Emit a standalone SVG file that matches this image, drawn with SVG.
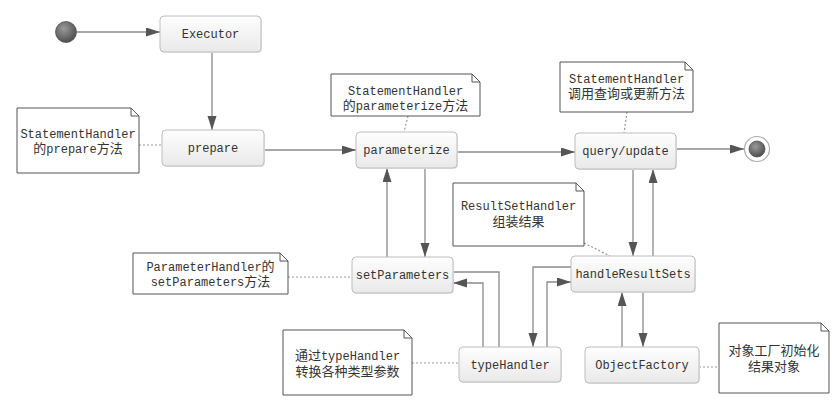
<svg xmlns="http://www.w3.org/2000/svg" width="838" height="411" viewBox="0 0 838 411">
<style>
.box{fill:url(#bg);stroke:#bdbdbd;stroke-width:1}
.shadow{fill:#e6e6e6}
.note{fill:#fff;stroke:#555;stroke-width:1}
.fold{fill:none;stroke:#555;stroke-width:1}
.t{font-family:"Liberation Mono","Noto Sans CJK SC",monospace;font-size:12px;fill:#333;text-anchor:middle}
.c{font-size:13px}
.line{fill:none;stroke:#8a8a8a;stroke-width:1.3}
.arr{marker-end:url(#ah)}
.dot{fill:none;stroke:#999;stroke-width:1.2;stroke-dasharray:2 2}
</style>
<defs>
<linearGradient id="bg" x1="0" y1="0" x2="0" y2="1">
<stop offset="0" stop-color="#fefefe"/>
<stop offset="1" stop-color="#e9e9e9"/>
</linearGradient>
<radialGradient id="ball" cx="0.4" cy="0.35" r="0.7">
<stop offset="0" stop-color="#9a9a9a"/>
<stop offset="1" stop-color="#4a4a4a"/>
</radialGradient>
<marker id="ah" markerUnits="userSpaceOnUse" markerWidth="15" markerHeight="10" refX="14" refY="4.5" orient="auto">
<path d="M0,0 L14,4.5 L0,9 z" fill="#555"/>
</marker>
</defs>

<g id="connectors">
<path class="line arr" d="M77,32 H160"/>
<path class="line arr" d="M212,52 V130"/>
<path class="line arr" d="M264,150 H356"/>
<path class="line arr" d="M457,152 H575"/>
<path class="line arr" d="M676,149 H744"/>
<path class="line arr" d="M425,168 V257"/>
<path class="line arr" d="M387,257 V168"/>
<path class="line arr" d="M633,169 V256"/>
<path class="line arr" d="M653,256 V169"/>
<path class="line" d="M453,272 H499 V347"/>
<path class="line arr" d="M483,347 V283 H453"/>
<path class="line arr" d="M571,267 H533 V347"/>
<path class="line arr" d="M547,347 V282 H571"/>
<path class="line arr" d="M622,347 V292"/>
<path class="line arr" d="M643,292 V347"/>
<path class="dot" d="M139,145 H162"/>
<path class="dot" d="M408,116 L404,132"/>
<path class="dot" d="M627,112 L624,133"/>
<path class="dot" d="M288,277 H352"/>
<path class="dot" d="M584,243 L610,256"/>
<path class="dot" d="M412,363 H459"/>
<path class="dot" d="M699,367 H719"/>
</g>

<g id="start">
<circle cx="66" cy="32" r="10.5" fill="url(#ball)" stroke="#555" stroke-width="0.8"/>
</g>
<g id="end">
<circle cx="757" cy="149" r="12.5" fill="#fff" stroke="#aaa" stroke-width="1.2"/>
<circle cx="757" cy="149" r="8" fill="url(#ball)" stroke="#555" stroke-width="0.8"/>
</g>

<g id="executor">
<rect class="shadow" x="161" y="17" width="101" height="36" rx="4"/>
<rect class="box" x="160" y="16" width="101" height="36" rx="4"/>
<text class="t" x="210.5" y="38">Executor</text>
</g>
<g id="prepare">
<rect class="shadow" x="163" y="131" width="102" height="36" rx="4"/>
<rect class="box" x="162" y="130" width="102" height="36" rx="4"/>
<text class="t" x="213" y="152">prepare</text>
</g>
<g id="parameterize">
<rect class="shadow" x="357" y="133" width="101" height="36" rx="4"/>
<rect class="box" x="356" y="132" width="101" height="36" rx="4"/>
<text class="t" x="406.5" y="154">parameterize</text>
</g>
<g id="queryUpdate">
<rect class="shadow" x="576" y="134" width="101" height="36" rx="4"/>
<rect class="box" x="575" y="133" width="101" height="36" rx="4"/>
<text class="t" x="625.5" y="155">query/update</text>
</g>
<g id="setParameters">
<rect class="shadow" x="353" y="258" width="101" height="36" rx="4"/>
<rect class="box" x="352" y="257" width="101" height="36" rx="4"/>
<text class="t" x="402.5" y="279">setParameters</text>
</g>
<g id="handleResultSets">
<rect class="shadow" x="572" y="257" width="124" height="36" rx="4"/>
<rect class="box" x="571" y="256" width="124" height="36" rx="4"/>
<text class="t" x="633" y="278">handleResultSets</text>
</g>
<g id="typeHandler">
<rect class="shadow" x="460" y="348" width="102" height="35" rx="4"/>
<rect class="box" x="459" y="347" width="102" height="35" rx="4"/>
<text class="t" x="510" y="369">typeHandler</text>
</g>
<g id="objectFactory">
<rect class="shadow" x="586" y="348" width="114" height="36" rx="4"/>
<rect class="box" x="585" y="347" width="114" height="36" rx="4"/>
<text class="t" x="642" y="369">ObjectFactory</text>
</g>

<g id="notePrepare">
<path class="note" d="M17,108 H131 L139,116 V173 H17 Z"/>
<path class="fold" d="M131,108 V116 H139"/>
<text class="t" x="78" y="138">StatementHandler</text>
<text class="t" x="78" y="153"><tspan class="c">的</tspan>prepare<tspan class="c">方法</tspan></text>
</g>
<g id="noteParameterize">
<path class="note" d="M331,74 H472 L480,82 V116 H331 Z"/>
<path class="fold" d="M472,74 V82 H480"/>
<text class="t" x="405.5" y="95">StatementHandler</text>
<text class="t" x="405.5" y="110"><tspan class="c">的</tspan>parameterize<tspan class="c">方法</tspan></text>
</g>
<g id="noteQuery">
<path class="note" d="M560,62 H685 L693,70 V112 H560 Z"/>
<path class="fold" d="M685,62 V70 H693"/>
<text class="t" x="626.5" y="83">StatementHandler</text>
<text class="t c" x="626.5" y="98">调用查询或更新方法</text>
</g>
<g id="noteSetParameters">
<path class="note" d="M133,253 H280 L288,261 V294 H133 Z"/>
<path class="fold" d="M280,253 V261 H288"/>
<text class="t" x="210.5" y="271">ParameterHandler<tspan class="c">的</tspan></text>
<text class="t" x="210.5" y="286">setParameters<tspan class="c">方法</tspan></text>
</g>
<g id="noteTypeHandler">
<path class="note" d="M283,330 H404 L412,338 V395 H283 Z"/>
<path class="fold" d="M404,330 V338 H412"/>
<text class="t" x="347.5" y="360"><tspan class="c">通过</tspan>typeHandler</text>
<text class="t c" x="347.5" y="376">转换各种类型参数</text>
</g>
<g id="noteResultSetHandler">
<path class="note" d="M453,183 H576 L584,191 V246 H453 Z"/>
<path class="fold" d="M576,183 V191 H584"/>
<text class="t" x="518.5" y="210">ResultSetHandler</text>
<text class="t c" x="518.5" y="226">组装结果</text>
</g>
<g id="noteObjectFactory">
<path class="note" d="M719,323 H821 L829,331 V393 H719 Z"/>
<path class="fold" d="M821,323 V331 H829"/>
<text class="t c" x="774" y="355">对象工厂初始化</text>
<text class="t c" x="774" y="371">结果对象</text>
</g>
</svg>
